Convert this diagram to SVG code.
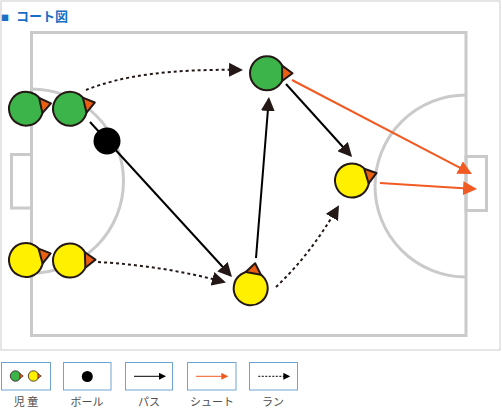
<svg xmlns="http://www.w3.org/2000/svg" xmlns:xlink="http://www.w3.org/1999/xlink" width="502" height="412" viewBox="0 0 502 412">
<style>
.frame{fill:#fff;stroke:#cccccc;stroke-width:1}
.court{fill:none;stroke:#cacaca;stroke-width:3}
.p{stroke:#231815;stroke-width:2}
.g{fill:#3cb44a}
.y{fill:#fff000}
.nose{fill:#ea6012;stroke:#231815;stroke-width:2;stroke-linejoin:round}
.pass{fill:none;stroke:#000;stroke-width:2}
.run{fill:none;stroke:#231815;stroke-width:2;stroke-dasharray:3 3}
.shot{fill:none;stroke:#f15a22;stroke-width:2}
.lbox{fill:#fff;stroke:#6ea4d2;stroke-width:1}
.lt{font-family:"Noto Sans CJK JP","Noto Sans",sans-serif;font-size:11px;fill:#4d4d4d;text-anchor:middle}
</style>
<defs>
<marker id="ab" viewBox="0 0 14 14" refX="12" refY="7" markerWidth="14" markerHeight="14" markerUnits="userSpaceOnUse" orient="auto"><path d="M0,0 L14,7 L0,14 z" fill="#231815"/></marker>
<marker id="ao" viewBox="0 0 14 14" refX="12" refY="7" markerWidth="14" markerHeight="14" markerUnits="userSpaceOnUse" orient="auto"><path d="M0,0 L14,7 L0,14 z" fill="#f15a22"/></marker>
<marker id="sb" viewBox="0 0 7 7" refX="6" refY="3.5" markerWidth="7" markerHeight="7" markerUnits="userSpaceOnUse" orient="auto"><path d="M0,0 L7,3.5 L0,7 z" fill="#000"/></marker>
<marker id="so" viewBox="0 0 7 7" refX="6" refY="3.5" markerWidth="7" markerHeight="7" markerUnits="userSpaceOnUse" orient="auto"><path d="M0,0 L7,3.5 L0,7 z" fill="#f15a22"/></marker>
<polygon id="nose" points="15.1,-7.7 25.5,0 15.1,7.7"/>
<polygon id="snose" points="4.4,-2.4 7.8,0 4.4,2.4"/>
</defs>

<rect class="frame" x="1" y="1" width="499" height="349"/>
<text x="1" y="21" font-family="Noto Sans CJK JP, sans-serif" font-weight="bold" fill="#1a6fc4"><tspan font-size="8">■</tspan><tspan x="16" font-size="13">コート図</tspan></text>

<g id="court">
<rect class="court" x="31.5" y="32.5" width="434.5" height="303"/>
<rect class="court" x="11.5" y="154.5" width="20" height="53.5"/>
<rect class="court" x="466" y="156.5" width="20.5" height="54"/>
<path class="court" d="M31.5,89 A92,92 0 0 1 31.5,273"/>
<path class="court" d="M466,95 A91,91 0 0 0 466,277"/>
</g>

<g id="connectors">
<path class="run" d="M86,90 Q140,68 241,70" marker-end="url(#ab)"/>
<path class="pass" d="M90,122 L230.6,275.5" marker-end="url(#ab)"/>
<path class="pass" d="M256,258 L268.8,99" marker-end="url(#ab)"/>
<path class="pass" d="M286,84 L350.7,155.5" marker-end="url(#ab)"/>
<path class="run" d="M276,287 Q310,255 338,207" marker-end="url(#ab)"/>
<path class="run" d="M98,262 Q165,266 224,282" marker-end="url(#ab)"/>
<path class="shot" d="M292,80 L470.2,173.1" marker-end="url(#ao)"/>
<path class="shot" d="M380,183 L475,188.9" marker-end="url(#ao)"/>
</g>

<g id="g1" transform="translate(26,108.7) rotate(-12)"><circle class="p g" r="17"/><use href="#nose" class="nose"/></g>
<g id="g2" transform="translate(70,108.7) rotate(-14)"><circle class="p g" r="17"/><use href="#nose" class="nose"/></g>
<g id="ball"><circle cx="107" cy="141" r="13.5" fill="#000"/></g>
<g id="y1" transform="translate(26,260) rotate(-15)"><circle class="p y" r="17"/><use href="#nose" class="nose"/></g>
<g id="y2" transform="translate(70,260.5) rotate(-2)"><circle class="p y" r="17"/><use href="#nose" class="nose"/></g>
<g id="g3" transform="translate(267,73.3) rotate(0)"><circle class="p g" r="17"/><use href="#nose" class="nose"/></g>
<g id="y3" transform="translate(250.7,288.3) rotate(-80)"><circle class="p y" r="17"/><use href="#nose" class="nose"/></g>
<g id="y4" transform="translate(352,180.5) rotate(-17)"><circle class="p y" r="17"/><use href="#nose" class="nose"/></g>

<g id="legend-children">
<rect class="lbox" x="1.5" y="362.5" width="49" height="27.5"/>
<g transform="translate(15.5,376)"><circle r="5.2" fill="#3cb44a" stroke="#231815" stroke-width="0.8"/><use href="#snose" fill="#ea6012" stroke="#231815" stroke-width="0.6"/></g>
<g transform="translate(33.5,376)"><circle r="5.2" fill="#fff000" stroke="#231815" stroke-width="0.8"/><use href="#snose" fill="#ea6012" stroke="#231815" stroke-width="0.6"/></g>
<text class="lt" x="26" y="406">児 童</text>
</g>
<g id="legend-ball">
<rect class="lbox" x="63.5" y="362.5" width="47.5" height="27.5"/>
<circle cx="87.3" cy="376.5" r="5.5" fill="#000"/>
<text class="lt" x="87" y="406">ボール</text>
</g>
<g id="legend-pass">
<rect class="lbox" x="125.5" y="362.5" width="47" height="27.5"/>
<path d="M134,376.3 L165,376.3" stroke="#000" stroke-width="1" marker-end="url(#sb)"/>
<text class="lt" x="149" y="406">パス</text>
</g>
<g id="legend-shot">
<rect class="lbox" x="187.5" y="362.5" width="48.5" height="27.5"/>
<path d="M196,376.3 L227.3,376.3" stroke="#f15a22" stroke-width="1" marker-end="url(#so)"/>
<text class="lt" x="212" y="406">シュート</text>
</g>
<g id="legend-run">
<rect class="lbox" x="249.5" y="362.5" width="48" height="27.5"/>
<path d="M258.3,376.3 L289.3,376.3" stroke="#000" stroke-width="1" stroke-dasharray="2 1.5" marker-end="url(#sb)"/>
<text class="lt" x="273" y="406">ラン</text>
</g>
</svg>
